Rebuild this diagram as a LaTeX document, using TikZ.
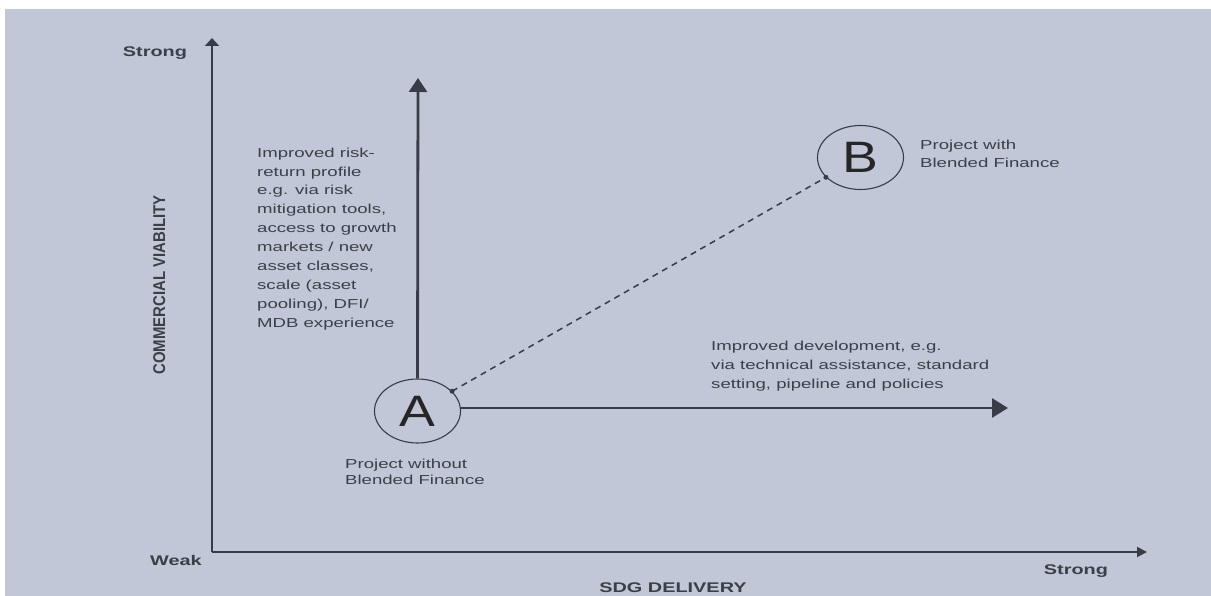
\documentclass[tikz,border=0pt]{standalone}
\usepackage{fontspec}
\usetikzlibrary{arrows.meta,shapes.geometric}
\setmainfont{Liberation Sans}
% stretched faces for the wide lettering
\newfontfamily\bodyfont[FakeStretch=1.43]{Liberation Sans}
\newfontfamily\labelfont[FakeStretch=1.42]{Liberation Sans}
\newfontfamily\sidefont[FakeStretch=0.88]{Liberation Sans}
\newfontfamily\letterfont[FakeStretch=1.22]{Liberation Sans}
\definecolor{panel}{HTML}{C1C7D6}
\definecolor{ink}{HTML}{3B3F48}
\definecolor{lineink}{HTML}{383C47}

\begin{document}
\begin{tikzpicture}[x=1pt,y=-1pt,
  body/.style={anchor=north west, inner sep=0pt, align=left, text=ink,
    font=\bodyfont\fontsize{13}{18.9}\selectfont},
  axislabel/.style={anchor=base, inner sep=0pt, text=ink,
    font=\labelfont\bfseries\fontsize{14}{14}\selectfont},
  project/.style={ellipse, draw=lineink, line width=1.1pt, minimum width=86pt,
    minimum height=64pt, inner sep=0pt, text=black!85,
    font=\letterfont\fontsize{44}{44}\selectfont},
  axisline/.style={draw=lineink, line width=1.8pt},
  gain/.style={draw=lineink, line width=2.8pt},
  dot/.style={circle, fill=lineink, inner sep=0pt, minimum size=5pt},
]
% page and panel
\fill[white] (0,0) rectangle (1211,596);
\fill[panel] (5,9) rectangle (1211,596);
\useasboundingbox (0,0) rectangle (1211,596);

% axes
\coordinate (origin) at (212,552);
\coordinate (ytip) at (212,38);
\coordinate (xtip) at (1147,552);
\draw[axisline, -{Triangle[length=8pt,width=14pt]}] (origin) -- (ytip);
\draw[axisline, -{Triangle[length=10pt,width=10pt]}] (origin) -- (xtip);

\node[axislabel] (yStrong) at (155,57) {Strong};
\node[axislabel] (weak) at (176,565) {Weak};
\node[axislabel] (xStrong) at (1076,574) {Strong};
\node[axislabel] (xTitle) at (673,592) {SDG DELIVERY};
\node[anchor=base, inner sep=0pt, rotate=90, text=ink,
  font=\sidefont\bfseries\fontsize{17}{17}\selectfont] (yTitle) at (165,285) {COMMERCIAL VIABILITY};

% projects
\node[project] (A) at (417.5,411) {A};
\node[project] (B) at (860.5,157.5) {B};

% improvement arrows
\coordinate (vtip) at (418,78);
\coordinate (htip) at (1008,408);
\draw[gain, -{Triangle[length=14pt,width=18pt]}] (A.north) -- (vtip);
\draw[gain, -{Triangle[length=16pt,width=19pt]}] (A.east |- htip) -- (htip);
\draw[draw=lineink, line width=1.5pt, dash pattern=on 6pt off 5pt] (A) -- (B)
  node[dot, pos=0] (dotA) {} node[dot, pos=1] (dotB) {};

% texts
\node[body] (riskText) at (257,147.5) {Improved risk-\\return profile\\e.g. via risk\\mitigation tools,\\access to growth\\markets / new\\asset classes,\\scale (asset\\pooling), DFI/\\MDB experience};
\node[body] (devText) at (711,341) {Improved development, e.g.\\via technical assistance, standard\\setting, pipeline and policies};
\node[body, font=\bodyfont\fontsize{13}{18}\selectfont] (bText) at (920,139.5) {Project with\\Blended Finance};
\node[body, font=\bodyfont\fontsize{13}{16.2}\selectfont] (aText) at (345,458.5) {Project without\\Blended Finance};
\end{tikzpicture}
\end{document}
